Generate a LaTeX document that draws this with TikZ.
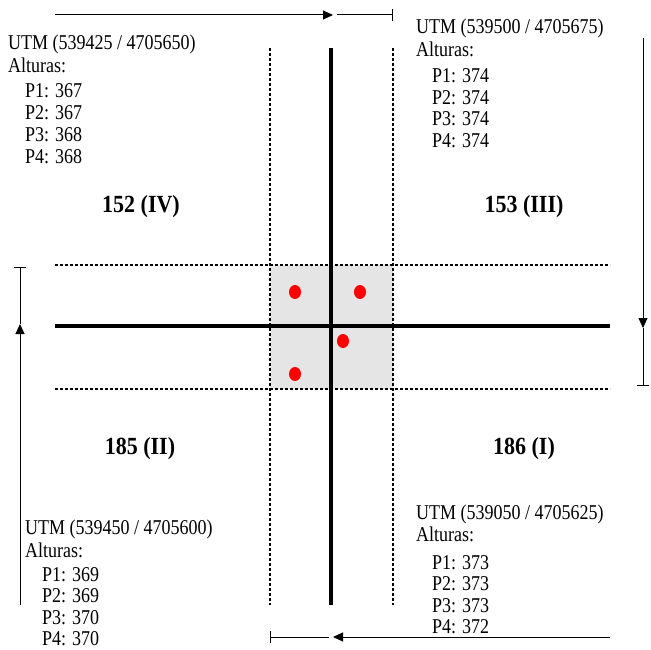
\documentclass[tikz,border=0pt]{standalone}
\usepackage{fontspec}
\setmainfont{Liberation Serif}
\usetikzlibrary{arrows.meta,shapes.geometric}
\newcommand\tall[1]{\scalebox{1}[1.17]{#1}}
\begin{document}
\begin{tikzpicture}[x=1pt,y=-1pt,
  txt/.style={anchor=base west,inner sep=0pt,font=\fontsize{18}{22}\selectfont},
  lbl/.style={inner sep=0pt,font=\fontsize{22}{24}\selectfont\bfseries},
  axis/.style={line width=3.5pt},
  guide/.style={line width=1.4pt,dash pattern=on 3pt off 2pt},
  dim/.style={line width=1pt},
  tip/.style={-{Triangle[length=10pt,width=9pt]}},
  stop/.style={-{Bar[width=12pt,line width=1.2pt]}},
  dot/.style={ellipse,fill=red,inner sep=0pt,minimum width=12pt,minimum height=14pt}
]
\useasboundingbox (0,0) rectangle (651,650);
% shaded square
\fill[gray!20] (270,265) rectangle (393,389);
% guide lines
\coordinate (g1t) at (270,48); \coordinate (g1b) at (270,605);
\coordinate (g2t) at (393,48); \coordinate (g2b) at (393,605);
\coordinate (g3l) at (55,265); \coordinate (g3r) at (610,265);
\coordinate (g4l) at (55,389); \coordinate (g4r) at (610,389);
\draw[guide] (g1t) -- (g1b);
\draw[guide] (g2t) -- (g2b);
\draw[guide] (g3l) -- (g3r);
\draw[guide] (g4l) -- (g4r);
% axes
\coordinate (vt) at (331,48); \coordinate (vb) at (331,605);
\coordinate (hl) at (55,326); \coordinate (hr) at (610,326);
\draw[axis] (vt) -- (vb);
\draw[axis] (hl) -- (hr);
% red points
\node[dot] (d1) at (295,292) {};
\node[dot] (d2) at (360,292) {};
\node[dot] (d3) at (343,341) {};
\node[dot] (d4) at (295,374) {};
% dimension arrows
\coordinate (ta) at (55,15); \coordinate (tb) at (333,15);
\coordinate (tc) at (337,15); \coordinate (td) at (393,15);
\draw[dim,tip] (ta) -- (tb);
\draw[dim,stop] (tc) -- (td);
\coordinate (ra) at (643,38); \coordinate (rb) at (643,328);
\coordinate (rc) at (643,386);
\draw[dim,tip] (ra) -- (rb);
\draw[dim,stop] (rb) -- (rc);
\coordinate (la) at (20,605); \coordinate (lb) at (20,324);
\coordinate (lc) at (20,267);
\draw[dim,tip] (la) -- (lb);
\draw[dim,stop] (lb) -- (lc);
\coordinate (ba) at (610,637); \coordinate (bb) at (333,637);
\coordinate (bc) at (329,637); \coordinate (bd) at (270,637);
\draw[dim,tip] (ba) -- (bb);
\draw[dim,stop] (bc) -- (bd);
% quadrant labels
\node[lbl] (q4) at (141,207) {\scalebox{1}[1.12]{152 (IV)}};
\node[lbl] (q3) at (524,207) {\scalebox{1}[1.12]{153 (III)}};
\node[lbl] (q2) at (140,449) {\scalebox{1}[1.12]{185 (II)}};
\node[lbl] (q1) at (524,449) {\scalebox{1}[1.12]{186 (I)}};
% top-left block
\node[txt] (a0) at (8,50) {\tall{UTM (539425 / 4705650)}};
\node[txt] (a1) at (8,73) {\tall{Alturas:}};
\node[txt] (a2) at (25,98) {\tall{P1: 367}};
\node[txt] (a3) at (25,120) {\tall{P2: 367}};
\node[txt] (a4) at (25,142) {\tall{P3: 368}};
\node[txt] (a5) at (25,164) {\tall{P4: 368}};
% top-right block
\node[txt] (b0) at (416,33.5) {\tall{UTM (539500 / 4705675)}};
\node[txt] (b1) at (416,56.5) {\tall{Alturas:}};
\node[txt] (b2) at (432,83) {\tall{P1: 374}};
\node[txt] (b3) at (432,104.5) {\tall{P2: 374}};
\node[txt] (b4) at (432,126) {\tall{P3: 374}};
\node[txt] (b5) at (432,147.5) {\tall{P4: 374}};
% bottom-left block
\node[txt] (c0) at (25,534) {\tall{UTM (539450 / 4705600)}};
\node[txt] (c1) at (25,557) {\tall{Alturas:}};
\node[txt] (c2) at (42,581) {\tall{P1: 369}};
\node[txt] (c3) at (42,602.5) {\tall{P2: 369}};
\node[txt] (c4) at (42,624) {\tall{P3: 370}};
\node[txt] (c5) at (42,645.5) {\tall{P4: 370}};
% bottom-right block
\node[txt] (e0) at (416,519) {\tall{UTM (539050 / 4705625)}};
\node[txt] (e1) at (416,541.5) {\tall{Alturas:}};
\node[txt] (e2) at (432,569) {\tall{P1: 373}};
\node[txt] (e3) at (432,590.5) {\tall{P2: 373}};
\node[txt] (e4) at (432,612) {\tall{P3: 373}};
\node[txt] (e5) at (432,633.5) {\tall{P4: 372}};
\end{tikzpicture}
\end{document}
